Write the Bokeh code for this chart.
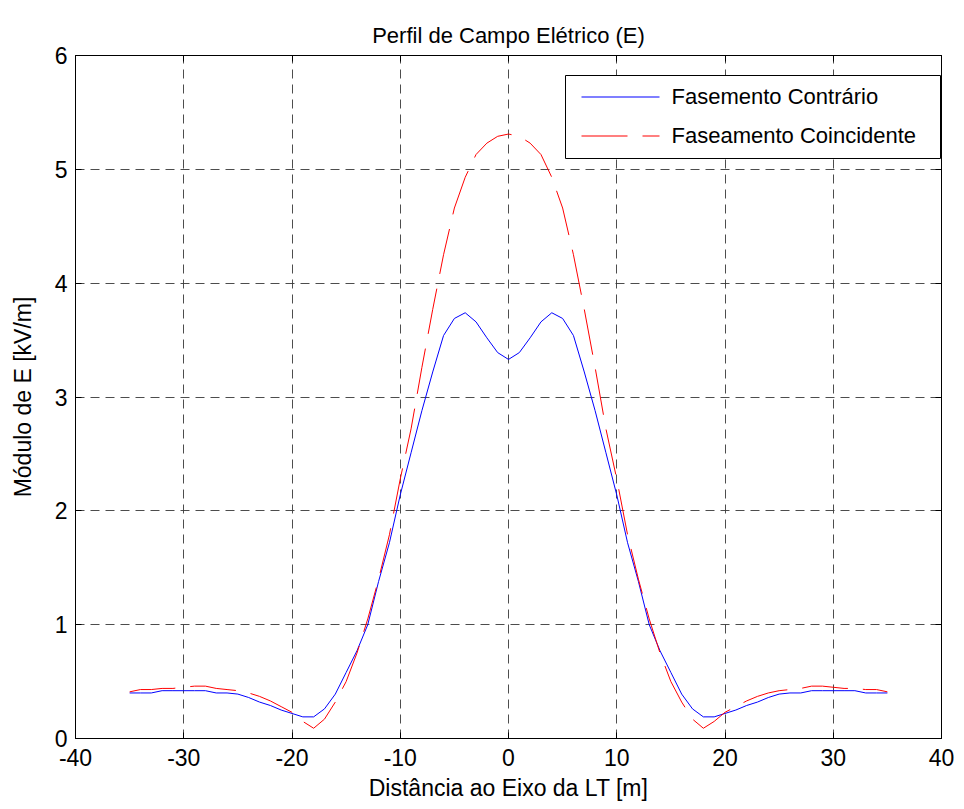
from bokeh.plotting import figure
from bokeh.models import LinearAxis, FixedTicker, Range1d, BoxAnnotation, Label
from bokeh.embed import file_html
from bokeh.resources import INLINE

distancia = list(range(-35, 36))

fasamento_contrario = [
    0.40, 0.40, 0.40, 0.42, 0.42, 0.42, 0.42, 0.42, 0.40, 0.40,
    0.39, 0.36, 0.32, 0.29, 0.25, 0.22, 0.19, 0.19, 0.26, 0.39,
    0.58, 0.77, 1.00, 1.38, 1.72, 2.14, 2.51, 2.88, 3.22, 3.54,
    3.69, 3.74, 3.66, 3.52, 3.39, 3.33, 3.39, 3.52, 3.66, 3.74,
    3.69, 3.54, 3.22, 2.88, 2.51, 2.14, 1.72, 1.38, 1.00, 0.77,
    0.58, 0.39, 0.26, 0.19, 0.19, 0.22, 0.25, 0.29, 0.32, 0.36,
    0.39, 0.40, 0.40, 0.42, 0.42, 0.42, 0.42, 0.42, 0.40, 0.40,
    0.40,
]

fasamento_coincidente = [
    0.41, 0.43, 0.43, 0.44, 0.44, 0.45, 0.46, 0.46, 0.44, 0.43,
    0.42, 0.40, 0.37, 0.33, 0.28, 0.23, 0.15, 0.09, 0.17, 0.32,
    0.50, 0.75, 1.05, 1.40, 1.79, 2.28, 2.72, 3.26, 3.77, 4.25,
    4.66, 4.93, 5.13, 5.23, 5.29, 5.31, 5.29, 5.23, 5.13, 4.93,
    4.66, 4.25, 3.77, 3.26, 2.72, 2.28, 1.79, 1.40, 1.05, 0.75,
    0.50, 0.32, 0.17, 0.09, 0.15, 0.23, 0.28, 0.33, 0.37, 0.40,
    0.42, 0.43, 0.44, 0.46, 0.46, 0.45, 0.44, 0.44, 0.43, 0.43,
    0.41,
]

series_labels = ["Fasemento Contrário", "Faseamento Coincidente"]
x_ticks = [-40, -30, -20, -10, 0, 10, 20, 30, 40]
y_ticks = [0, 1, 2, 3, 4, 5, 6]

FONT = "Liberation Sans"
BLUE = "#0000ff"
RED = "#ff0000"

p = figure(width=964, height=809, output_backend="svg", toolbar_location=None,
           x_range=Range1d(-40, 40), y_range=Range1d(0, 6),
           min_border_left=75, min_border_right=23, min_border_top=55,
           min_border_bottom=71)
p.title.text = "Perfil de Campo Elétrico (E)"
p.title.align = "center"
p.title.text_font = FONT
p.title.text_font_size = "22px"
p.title.text_font_style = "normal"
p.title.text_color = "black"
p.title.standoff = 16

p.outline_line_color = "black"
p.outline_line_width = 1

for ax in p.xaxis + p.yaxis:
    ax.major_tick_in = 6
    ax.major_tick_out = 0
    ax.minor_tick_line_color = None
    ax.axis_line_color = "black"
    ax.major_tick_line_color = "black"
    ax.major_label_text_font = FONT
    ax.major_label_text_font_size = "23px"
    ax.major_label_text_color = "black"
    ax.axis_label_text_font = FONT
    ax.axis_label_text_font_size = "23px"
    ax.axis_label_text_font_style = "normal"
    ax.axis_label_text_color = "black"

p.xaxis.ticker = FixedTicker(ticks=x_ticks)
p.yaxis.ticker = FixedTicker(ticks=y_ticks)
p.xaxis.major_label_overrides = {t: str(t) for t in x_ticks}
p.xaxis.axis_label = "Distância ao Eixo da LT [m]"
p.yaxis.axis_label = "Módulo de E [kV/m]"
p.xaxis.major_label_standoff = 10
p.xaxis.axis_label_standoff = 6
p.yaxis.major_label_standoff = 8
p.yaxis.axis_label_standoff = 16

top = LinearAxis(ticker=FixedTicker(ticks=x_ticks), major_label_text_font_size="0px",
                 major_tick_in=6, major_tick_out=0, minor_tick_line_color=None,
                 axis_line_color="black", major_label_standoff=0)
right = LinearAxis(ticker=FixedTicker(ticks=y_ticks), major_label_text_font_size="0px",
                   major_tick_in=6, major_tick_out=0, minor_tick_line_color=None,
                   axis_line_color="black", major_label_standoff=0)
p.add_layout(top, "above")
p.add_layout(right, "right")

for g in (p.xgrid, p.ygrid):
    g.grid_line_color = "#3a3a3a"
    g.grid_line_dash = "9 6"
    g.grid_line_width = 1
    g.grid_line_alpha = 0.9
p.xgrid.ticker = FixedTicker(ticks=x_ticks)
p.ygrid.ticker = FixedTicker(ticks=y_ticks)

p.line(distancia, fasamento_contrario, line_color=BLUE, line_width=1)
p.line(distancia, fasamento_coincidente, line_color=RED, line_width=1,
       line_dash="46 15")

# legend drawn by hand (screen units relative to the plot frame)
def sbox(l, r, b, t, fill, line=None):
    return BoxAnnotation(left=l, right=r, bottom=b, top=t,
                         left_units="screen", right_units="screen",
                         bottom_units="screen", top_units="screen",
                         fill_color=fill, fill_alpha=1,
                         line_color=line, line_alpha=1 if line else 0,
                         line_width=1, level="overlay")

p.add_layout(sbox(490, 865, 580, 663, "white", "black"))
p.add_layout(sbox(506, 584, 641, 642, BLUE))
p.add_layout(sbox(506, 552, 602, 603, RED))
p.add_layout(sbox(567, 584, 602, 603, RED))
for lbl, yy in zip(series_labels, [642, 603]):
    p.add_layout(Label(x=596, y=yy, x_units="screen", y_units="screen", text=lbl,
                       text_font=FONT, text_font_size="22px", text_color="black",
                       text_baseline="middle", text_align="left", level="overlay"))

open("out.html", "w").write(file_html(p, INLINE))
